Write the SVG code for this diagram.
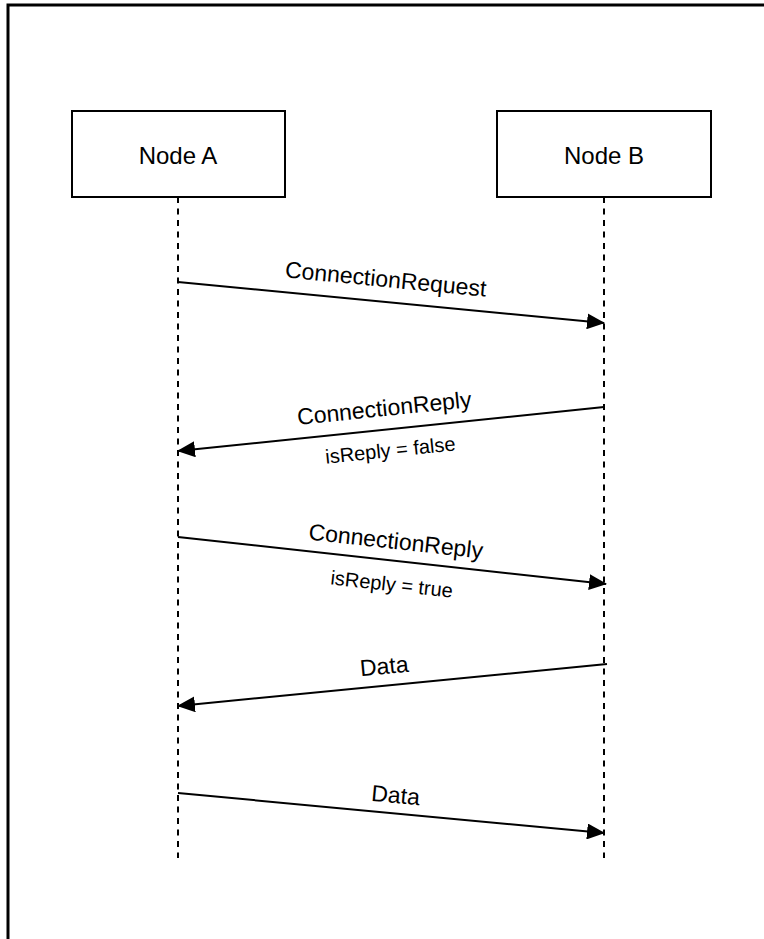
<svg xmlns="http://www.w3.org/2000/svg" width="764" height="939" viewBox="0 0 764 939">
<style>
.box{fill:#fff;stroke:#000;stroke-width:2}
.life{stroke:#000;stroke-width:2;stroke-dasharray:6 5.5;fill:none}
.msg{stroke:#000;stroke-width:2;fill:none;marker-end:url(#arr)}
text{font-family:"Liberation Sans",Arial,sans-serif;fill:#000}
.nl{font-size:24px;text-anchor:middle}
.ml{font-size:23px;text-anchor:middle}
.sl{font-size:20px;text-anchor:middle}
</style>
<defs>
<marker id="arr" viewBox="0 0 18 16" refX="17" refY="8" markerWidth="18" markerHeight="16" markerUnits="userSpaceOnUse" orient="auto">
<path d="M0,0 L18,8 L0,16 Z" fill="#000"/>
</marker>
</defs>
<rect width="764" height="939" fill="#fff"/>
<path d="M8,939 V5 H764" fill="none" stroke="#000" stroke-width="3"/>
<g id="nodeA">
<rect class="box" x="72" y="111" width="213" height="86"/>
<text class="nl" x="178" y="164">Node A</text>
</g>
<g id="nodeB">
<rect class="box" x="497" y="111" width="214" height="86"/>
<text class="nl" x="604" y="164">Node B</text>
</g>
<g id="connectors">
<line class="life" x1="178" y1="197" x2="178" y2="858"/>
<line class="life" x1="604" y1="197" x2="604" y2="858"/>
<line class="msg" x1="178" y1="282" x2="604" y2="323"/>
<line class="msg" x1="604" y1="407" x2="178" y2="451"/>
<line class="msg" x1="178" y1="537" x2="606" y2="584"/>
<line class="msg" x1="607" y1="664" x2="178" y2="706"/>
<line class="msg" x1="178" y1="793" x2="604" y2="833"/>
<text class="ml" transform="translate(385,287) rotate(5.5)">ConnectionRequest</text>
<text class="ml" transform="translate(385,416) rotate(-5.9)">ConnectionReply</text>
<text class="sl" transform="translate(391,457) rotate(-5.9)">isReply = false</text>
<text class="ml" transform="translate(395,549) rotate(6.2)">ConnectionReply</text>
<text class="sl" transform="translate(391,591) rotate(6.2)">isReply = true</text>
<text class="ml" transform="translate(385,674) rotate(-5.6)">Data</text>
<text class="ml" transform="translate(395,803) rotate(5.4)">Data</text>
</g>
</svg>
